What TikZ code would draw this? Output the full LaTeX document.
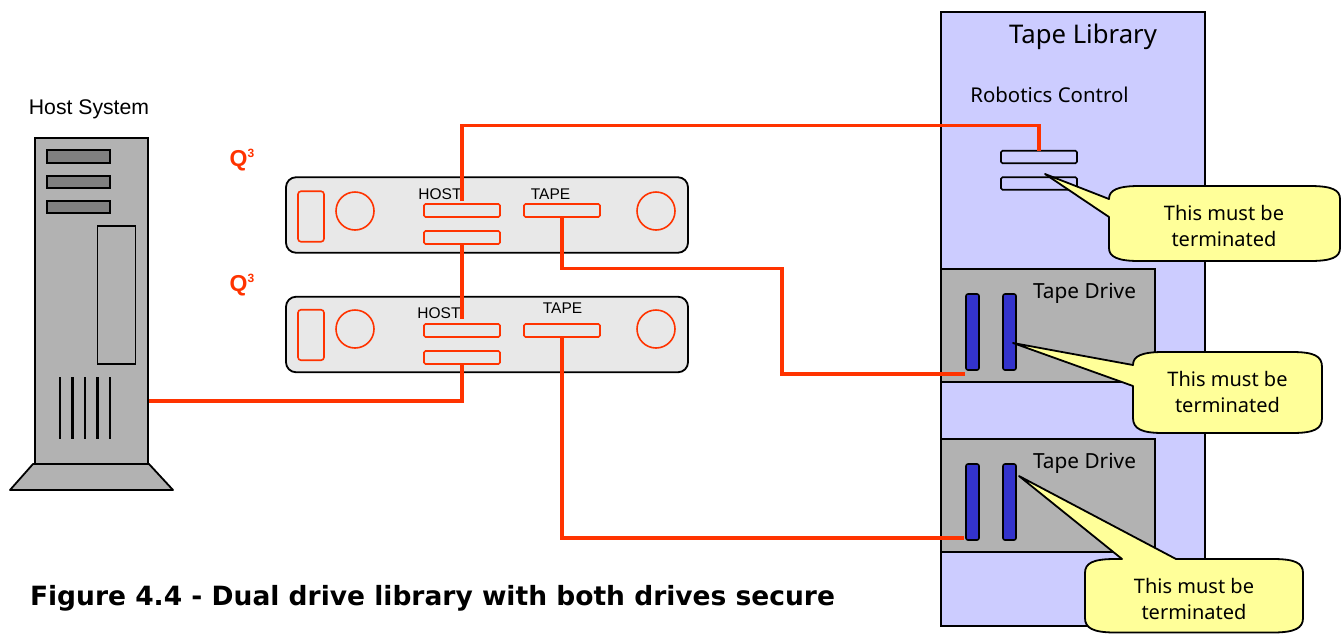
\documentclass[tikz,border=0pt]{standalone}
\usepackage{fontspec}
\setmainfont{Liberation Sans}
\newfontfamily\tah{Noto Sans}
\newfontfamily\verd{DejaVu Sans}
\definecolor{wirec}{HTML}{FF3300}
\definecolor{libc}{HTML}{CCCCFF}
\definecolor{greyc}{HTML}{B2B2B2}
\definecolor{darkc}{HTML}{808080}
\definecolor{panelc}{HTML}{E8E8E8}
\definecolor{notec}{HTML}{FFFF99}
\definecolor{bluec}{HTML}{3333CC}
\tikzset{
  x=1pt,y=-1pt,
  box/.style={draw=black,line width=1.8pt,inner sep=0pt,outer sep=0pt,rectangle},
  lib/.style={box,fill=libc,minimum width=264pt,minimum height=614pt},
  drive/.style={box,fill=greyc,minimum width=214pt,minimum height=113pt},
  tower/.style={box,fill=greyc},
  bay/.style={box,fill=darkc,minimum width=63pt,minimum height=12.5pt},
  panel/.style={box,fill=panelc,rounded corners=10pt,minimum width=402pt,minimum height=75.5pt},
  oslot/.style={draw=wirec,line width=1.6pt,rectangle,rounded corners=1.5pt,inner sep=0pt,outer sep=0pt,minimum width=76pt,minimum height=13pt},
  obig/.style={oslot,minimum width=26pt,minimum height=50.5pt,rounded corners=3pt},
  odisc/.style={draw=wirec,line width=1.6pt,circle,inner sep=0pt,outer sep=0pt,minimum size=38pt},
  kslot/.style={draw=black,fill=libc,line width=1.6pt,rectangle,rounded corners=1.5pt,inner sep=0pt,outer sep=0pt,minimum width=76pt,minimum height=12.5pt},
  bslot/.style={draw=black,fill=bluec,line width=1.6pt,rectangle,rounded corners=2pt,inner sep=0pt,outer sep=0pt,minimum width=13pt,minimum height=76pt},
  wire/.style={draw=wirec,line width=3.6pt,line cap=butt,line join=miter},
  note/.style={draw=black,fill=notec,line width=1.8pt,line join=round},
  lbl/.style={inner sep=0pt,outer sep=0pt,text=black},
  notetxt/.style={lbl,align=center,font=\tah\fontsize{20}{26}\selectfont,text=black},
  qlbl/.style={lbl,text=wirec,font=\bfseries\fontsize{23}{23}\selectfont},
  small/.style={lbl,font=\fontsize{15.5}{16}\selectfont},
}
\begin{document}
\begin{tikzpicture}
\path[clip] (0,0) rectangle (1344,633);
% tape library
\node[lib] (library) at (1073,319) {};
\node[drive] (driveA) at (1048,325.5) {};
\node[drive] (driveB) at (1048,495.5) {};
\node[kslot] (robA) at (1039,157) {};
\node[kslot] (robB) at (1039,183.5) {};
\node[bslot] (blueA1) at (972.5,332) {};
\node[bslot] (blueA2) at (1009.5,332) {};
\node[bslot] (blueB1) at (972.5,502) {};
\node[bslot] (blueB2) at (1009.5,502) {};
\node[lbl,anchor=center,font=\tah\fontsize{25.7}{26}\selectfont] (libtxt) at (1083,36.5) {Tape Library};
\node[lbl,font=\tah\fontsize{20.4}{20}\selectfont] (robtxt) at (1049.5,94.5) {Robotics Control};
\node[lbl,font=\tah\fontsize{20.8}{20}\selectfont] (drvA) at (1084.5,293) {Tape Drive};
\node[lbl,font=\tah\fontsize{20.8}{20}\selectfont] (drvB) at (1084.5,463) {Tape Drive};
% host system
\node[tower,minimum width=113pt,minimum height=326pt] (tower) at (91.5,301) {};
\draw[box,fill=greyc,line join=round] (33,464) -- (149,464) -- (173,490) -- (10,490) -- cycle;
\node[bay] (bayA) at (78.5,156.5) {};
\node[bay] (bayB) at (78.5,182) {};
\node[bay] (bayC) at (78.5,207) {};
\node[tower,minimum width=38pt,minimum height=138pt] (door) at (116.5,295) {};
\foreach \vx in {60,72.5,85,97.5,110}
  \draw[black,line width=2.2pt] (\vx,377) -- (\vx,439);
\node[lbl,font=\fontsize{21.2}{20}\selectfont] (hosttxt) at (89,109) {Host System};
% Q3 labels
\node[qlbl] (qa) at (242,160) {Q\raisebox{9pt}{\fontsize{12}{12}\selectfont 3}};
\node[qlbl] (qb) at (242,285) {Q\raisebox{9pt}{\fontsize{12}{12}\selectfont 3}};
% Q3 panels
\node[panel] (panelA) at (487,215) {};
\node[panel] (panelB) at (487,334.5) {};
\node[obig] (bigA) at (311,216.5) {};
\node[odisc] (discA) at (355,211) {};
\node[oslot] (hostA1) at (462,210.5) {};
\node[oslot] (hostA2) at (462,237.5) {};
\node[oslot] (tapeA) at (562,210.5) {};
\node[odisc] (discAr) at (656,211) {};
\node[obig] (bigB) at (311,335) {};
\node[odisc] (discB) at (355,329) {};
\node[oslot] (hostB1) at (462,330.5) {};
\node[oslot] (hostB2) at (462,357.5) {};
\node[oslot] (tapeB) at (562,330.5) {};
\node[odisc] (discBr) at (656,329) {};
\node[small] (hA) at (440,194.5) {HOST};
\node[small] (tA) at (550.5,194.5) {TAPE};
\node[small] (hB) at (439,313) {HOST};
\node[small] (tB) at (562.5,308.5) {TAPE};
% wires
\coordinate (endA) at (461.7,201);
\coordinate (endB) at (461.7,318.5);
\coordinate (endC) at (965,374);
\coordinate (endD) at (964,538);
\coordinate (towerR) at (148.5,401);
\draw[wire] (endA) -- (endA |- 0,125.5) -- (1039,125.5) -- (robA.north);
\draw[wire] (hostA2.south -| endA) -- (endB);
\draw[wire] (towerR) -- (towerR -| endA) -- (hostB2.south -| endA);
\draw[wire] (tapeA.south) -- (562,268.5) -- (782,268.5) -- (782,374) -- (endC);
\draw[wire] (tapeB.south) -- (562,538) -- (endD);
% callouts
\draw[note] (1109,199) .. controls (1109,190) and (1118,186) .. (1139,186)
  -- (1310,186) .. controls (1332,186) and (1340,190) .. (1340,199)
  -- (1340,248) .. controls (1340,257) and (1332,261) .. (1310,261)
  -- (1139,261) .. controls (1118,261) and (1109,257) .. (1109,248)
  -- (1109,217) -- (1045,174) -- cycle;
\draw[note] (1133,365) .. controls (1133,356) and (1142,352) .. (1163,352)
  -- (1292,352) .. controls (1314,352) and (1322,356) .. (1322,367)
  -- (1322,418) .. controls (1322,429) and (1314,433) .. (1292,433)
  -- (1163,433) .. controls (1142,433) and (1133,429) .. (1133,418)
  -- (1133,386) -- (1013,343) -- cycle;
\draw[note] (1176,559)
  -- (1273,559) .. controls (1295,559) and (1303,563) .. (1303,573)
  -- (1303,618) .. controls (1303,628) and (1295,632.5) .. (1273,632.5)
  -- (1115,632.5) .. controls (1093,632.5) and (1085,628) .. (1085,618)
  -- (1085,573) .. controls (1085,563) and (1093,559) .. (1115,559)
  -- (1122,559) -- (1019,476) -- cycle;
\node[notetxt] (noteA) at (1224,226) {This must be\\terminated};
\node[notetxt] (noteB) at (1227.5,392) {This must be\\terminated};
\node[notetxt] (noteC) at (1194,599) {This must be\\terminated};
% caption
\node[lbl,anchor=west,font=\verd\bfseries\fontsize{26.5}{26}\selectfont] (caption) at (30,598) {Figure 4.4 - Dual drive library with both drives secure};
\end{tikzpicture}
\end{document}
